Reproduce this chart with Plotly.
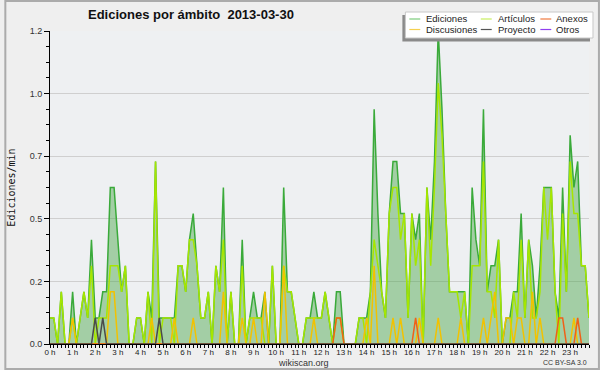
import plotly.graph_objects as go
import pandas as pd

# ---- data: edits per minute, 10-minute bins, 2013-03-30 ----
times = pd.date_range("2013-03-30 00:00", periods=144, freq="10min")

ediciones = [
    0.1, 0.1, 0, 0.2, 0, 0, 0.2, 0, 0.1, 0.2, 0.1, 0.4,
    0.1, 0.1, 0.2, 0.2, 0.6, 0.6, 0.4, 0.2, 0.3, 0, 0, 0.1,
    0.1, 0, 0.2, 0.1, 0.7, 0.1, 0.1, 0.1, 0.1, 0.1, 0.3, 0.3,
    0.2, 0.4, 0.5, 0.3, 0.1, 0.1, 0.2, 0, 0.3, 0.2, 0.6, 0,
    0.2, 0, 0, 0.4, 0, 0.1, 0.2, 0.1, 0.1, 0.2, 0, 0.3,
    0, 0, 0.6, 0.2, 0.2, 0.1, 0, 0, 0.1, 0.1, 0.2, 0.1,
    0.1, 0.2, 0.1, 0, 0.2, 0.2, 0, 0, 0, 0, 0.1, 0.1,
    0.1, 0.2, 0.9, 0.5, 0.2, 0.1, 0.5, 0.7, 0.7, 0.5, 0.5, 0.1,
    0.5, 0.4, 0.5, 0, 0.6, 0.4, 0.7, 1.2, 0.9, 0.5, 0.2, 0.2,
    0.2, 0.2, 0.2, 0, 0.6, 0.4, 0.3, 0.9, 0.2, 0.3, 0.3, 0.4,
    0, 0.1, 0.1, 0.2, 0.2, 0.5, 0.1, 0.4, 0.3, 0.1, 0.3, 0.6,
    0.6, 0.6, 0.2, 0.1, 0.6, 0.2, 0.8, 0.6, 0.7, 0.3, 0.3, 0.1,
]
articulos = [
    0.1, 0.1, 0, 0.2, 0, 0, 0.1, 0, 0.1, 0.2, 0.1, 0.3,
    0, 0.1, 0.1, 0.1, 0.3, 0.3, 0.3, 0.2, 0.3, 0, 0, 0.1,
    0.1, 0, 0.2, 0, 0.7, 0, 0.1, 0.1, 0.1, 0, 0.3, 0.3,
    0.2, 0.4, 0.4, 0.3, 0.1, 0.1, 0.2, 0, 0.3, 0.2, 0.4, 0,
    0.2, 0, 0, 0.3, 0, 0.1, 0.1, 0.1, 0.1, 0, 0, 0.3,
    0, 0, 0.3, 0.2, 0.2, 0.1, 0, 0, 0.1, 0.1, 0.1, 0.1,
    0.1, 0.2, 0.1, 0, 0.1, 0.1, 0, 0, 0, 0, 0.1, 0.1,
    0, 0.2, 0.4, 0.3, 0.2, 0.1, 0.5, 0.6, 0.6, 0.4, 0.5, 0.1,
    0.5, 0.3, 0.4, 0, 0.6, 0.3, 0.6, 1.0, 0.8, 0.5, 0.2, 0.2,
    0.2, 0.1, 0.2, 0, 0.3, 0.3, 0.3, 0.7, 0.2, 0.2, 0.1, 0.4,
    0, 0, 0, 0.2, 0.1, 0.4, 0.1, 0.4, 0.1, 0.1, 0.2, 0.6,
    0.4, 0.6, 0.2, 0, 0.5, 0.2, 0.7, 0.5, 0.5, 0.3, 0.3, 0.1,
]
discusiones = [
    0, 0, 0, 0, 0, 0, 0.1, 0, 0, 0, 0, 0,
    0, 0, 0, 0, 0.2, 0.2, 0, 0, 0, 0, 0, 0,
    0, 0, 0, 0.1, 0, 0, 0, 0, 0, 0.1, 0, 0,
    0, 0, 0.1, 0, 0, 0, 0, 0, 0, 0, 0.2, 0,
    0, 0, 0, 0.1, 0, 0, 0.1, 0, 0, 0.2, 0, 0,
    0, 0, 0.3, 0, 0, 0, 0, 0, 0, 0, 0.1, 0,
    0, 0, 0, 0, 0, 0, 0, 0, 0, 0, 0, 0,
    0.1, 0, 0.3, 0, 0, 0, 0, 0.1, 0, 0.1, 0, 0,
    0, 0, 0.1, 0, 0, 0, 0, 0.1, 0, 0, 0, 0,
    0, 0.1, 0, 0, 0, 0, 0, 0.1, 0, 0.1, 0.2, 0,
    0, 0.1, 0.1, 0, 0.1, 0.1, 0, 0, 0.2, 0, 0.1, 0,
    0, 0, 0, 0, 0, 0, 0, 0.1, 0, 0, 0, 0,
]
anexos = [
    0, 0, 0, 0, 0, 0, 0, 0, 0, 0, 0, 0,
    0, 0, 0, 0, 0, 0, 0, 0, 0, 0, 0, 0,
    0, 0, 0, 0, 0, 0, 0, 0, 0, 0, 0, 0,
    0, 0, 0, 0, 0, 0, 0, 0, 0, 0, 0, 0,
    0, 0, 0, 0, 0, 0, 0, 0, 0, 0, 0, 0,
    0, 0, 0, 0, 0, 0, 0, 0, 0, 0, 0, 0,
    0, 0, 0, 0, 0.1, 0.1, 0, 0, 0, 0, 0, 0,
    0, 0, 0, 0, 0, 0, 0, 0, 0, 0, 0, 0,
    0, 0.1, 0, 0, 0, 0, 0, 0, 0, 0, 0, 0,
    0, 0, 0, 0, 0, 0, 0, 0, 0, 0, 0, 0,
    0, 0, 0, 0, 0, 0, 0, 0, 0, 0, 0, 0,
    0, 0, 0, 0.1, 0.1, 0, 0, 0, 0.1, 0, 0, 0,
]
proyecto = [
    0, 0, 0, 0, 0, 0, 0, 0, 0, 0, 0, 0,
    0.1, 0, 0.1, 0, 0, 0, 0, 0, 0, 0, 0, 0,
    0, 0, 0, 0, 0, 0.1, 0, 0, 0, 0, 0, 0,
] + [0] * 108
otros = [0] * 144

y_tickvals = [0, 0.24, 0.48, 0.72, 0.96, 1.2]
y_ticktext = ["0.0", "0.2", "0.5", "0.7", "1.0", "1.2"]
hour_ticks = pd.date_range("2013-03-30 00:00", periods=24, freq="1h")
hour_labels = [f"{h} h" for h in range(24)]

series = [
    ("Otros", otros, "#9040f0"),
    ("Ediciones", ediciones, "#3aaa3a"),
    ("Artículos", articulos, "#a6e600"),
    ("Discusiones", discusiones, "#f2c200"),
    ("Anexos", anexos, "#f06018"),
    ("Proyecto", proyecto, "#4a4a4a"),
]

fig = go.Figure()
for name, vals, col in series:
    kw = {}
    if name == "Ediciones":
        kw = dict(fill="tozeroy", fillcolor="rgba(70,165,70,0.45)")
    fig.add_trace(go.Scatter(x=times, y=vals, mode="lines", name=name,
                             line=dict(color=col, width=1.5), showlegend=False, **kw))

# layout geometry (pixels)
W, H = 600, 370
L, R, T, B = 46, 11, 31, 26
PW, PH = W - L - R, H - T - B


def px(x):
    return (x - L) / PW


def py(y):
    return (H - B - y) / PH


shapes = []
annotations = []
# outer frame
shapes.append(dict(type="rect", xref="paper", yref="paper", x0=px(1), x1=px(599), y0=py(369), y1=py(1),
                   line=dict(color="#ababab", width=2), layer="below"))
# legend box with shadow
shapes.append(dict(type="rect", xref="paper", yref="paper", x0=px(401), x1=px(590), y0=py(41.5), y1=py(15),
                   fillcolor="#8a8a8a", line=dict(width=0), layer="above"))
shapes.append(dict(type="rect", xref="paper", yref="paper", x0=px(404), x1=px(593), y0=py(38), y1=py(12),
                   fillcolor="#ffffff", line=dict(color="#c8c8c8", width=1), layer="above"))
legend_items = [
    ("Ediciones", "#7ccc7c", 408, 423, 19),
    ("Artículos", "#c8ee60", 480, 495, 19),
    ("Anexos", "#f07a40", 540, 554, 19),
    ("Discusiones", "#f5d050", 408, 423, 29.5),
    ("Proyecto", "#555555", 480, 495, 29.5),
    ("Otros", "#9040f0", 540, 554, 29.5),
]
for name, col, lx, tx, yy in legend_items:
    shapes.append(dict(type="line", xref="paper", yref="paper", x0=px(lx), x1=px(lx + 11), y0=py(yy), y1=py(yy),
                       line=dict(color=col, width=1.2), layer="above"))
    annotations.append(dict(text=name, xref="paper", yref="paper", x=px(tx), y=py(yy), xanchor="left",
                            yanchor="middle", showarrow=False,
                            font=dict(family="Liberation Sans, Arial, sans-serif", size=9.5, color="#222")))

annotations.append(dict(text="<b>Ediciones por ámbito  2013-03-30</b>", xref="paper", yref="paper",
                        x=px(188), y=py(14), xanchor="center", yanchor="middle", showarrow=False,
                        font=dict(family="Liberation Sans, Arial, sans-serif", size=13, color="#111")))
annotations.append(dict(text="wikiscan.org", xref="paper", yref="paper", x=px(301), y=py(362.5),
                        xanchor="center", yanchor="middle", showarrow=False,
                        font=dict(family="Liberation Sans, Arial, sans-serif", size=9, color="#333")))
annotations.append(dict(text="CC BY-SA 3.0", xref="paper", yref="paper", x=px(589), y=py(362.5),
                        xanchor="right", yanchor="middle", showarrow=False,
                        font=dict(family="Liberation Sans, Arial, sans-serif", size=7, color="#333")))

fig.update_layout(
    width=W, height=H,
    margin=dict(l=L, r=R, t=T, b=B, pad=0),
    paper_bgcolor="#efefef",
    plot_bgcolor="#eef0f2",
    shapes=shapes,
    annotations=annotations,
    showlegend=False,
)
fig.update_xaxes(
    range=[times[0], times[-1]],
    tickvals=hour_ticks, ticktext=hour_labels,
    showgrid=False, zeroline=False,
    showline=True, linecolor="#000", linewidth=1,
    ticks="outside", ticklen=3, tickcolor="#000",
    ticklabelstandoff=-3,
    minor=dict(dtick=600000, ticks="outside", ticklen=3, tickcolor="#000", showgrid=False),
    tickfont=dict(family="Liberation Sans, Arial, sans-serif", size=8, color="#222"),
)
fig.update_yaxes(
    range=[0, 1.2],
    tickvals=y_tickvals, ticktext=y_ticktext,
    showgrid=True, gridcolor="#cfcfcf", gridwidth=1,
    zeroline=False,
    showline=True, linecolor="#000", linewidth=1,
    ticks="outside", ticklen=5, tickcolor="#000",
    minor=dict(tickvals=[0.06, 0.12, 0.18, 0.30, 0.36, 0.42, 0.54, 0.60, 0.66, 0.78, 0.84, 0.90, 1.02, 1.08, 1.14],
               ticks="outside", ticklen=3, tickcolor="#000", showgrid=False),
    tickfont=dict(family="Liberation Sans, Arial, sans-serif", size=9, color="#333"),
    title=dict(text="Ediciones/min", font=dict(family="DejaVu Sans Mono, monospace", size=10, color="#111"),
               standoff=12),
)

fig.write_html("out.html", config={"displayModeBar": False},
               post_script="document.body.style.margin='0';document.body.style.overflow='hidden';")
